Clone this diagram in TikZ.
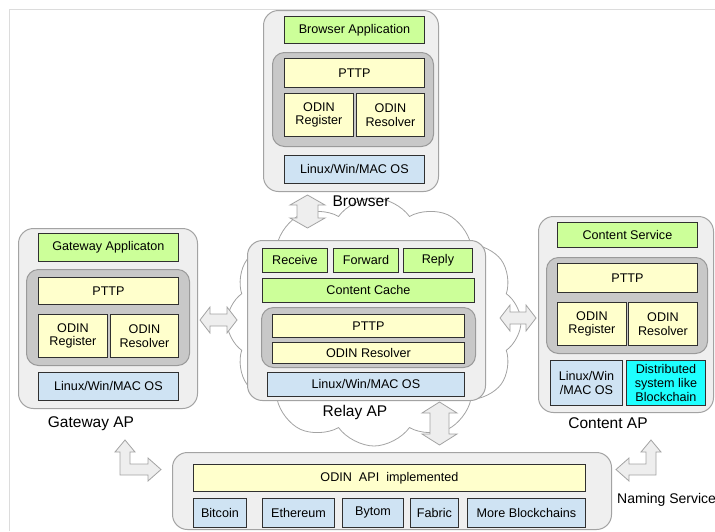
\documentclass[tikz,border=0pt]{standalone}
\usepackage{fontspec}
\setmainfont{Liberation Sans}
\usetikzlibrary{shapes.symbols}
\definecolor{outerfill}{HTML}{EFEFEF}
\definecolor{outerline}{HTML}{A3A3A3}
\definecolor{panelline}{HTML}{9A9A9A}
\definecolor{panelfill}{HTML}{C8C8C8}
\definecolor{greenfill}{HTML}{CCFF99}
\definecolor{yellowfill}{HTML}{FFFFCC}
\definecolor{bluefill}{HTML}{CFE3F3}
\definecolor{cyanfill}{HTML}{1EFFFF}
\definecolor{boxline}{HTML}{303030}
\definecolor{arrowfill}{HTML}{EEEEEE}
\definecolor{frameline}{HTML}{DCDCDC}
\newcommand\mybx[7]{\node[#1, minimum width={(#5-#3)*1pt}, minimum height={(#6-#4)*1pt}] (#2) at (#3,#4) {#7};}
\tikzset{
 outerbox/.style={draw=outerline, fill=outerfill, line width=1pt, rounded corners=15pt, anchor=north west, inner sep=0pt},
 panel/.style={draw=panelline, fill=panelfill, line width=1pt, rounded corners=12pt, anchor=north west, inner sep=0pt},
 inbox/.style={draw=boxline, line width=0.9pt, anchor=north west, inner sep=0pt, align=center, font=\fontsize{12.6}{13.8}\selectfont, text=black},
 gbox/.style={inbox, fill=greenfill},
 ybox/.style={inbox, fill=yellowfill},
 bbox/.style={inbox, fill=bluefill},
 cbox/.style={inbox, fill=cyanfill},
 biglabel/.style={font=\fontsize{15.5}{18}\selectfont, inner sep=0pt},
 blockarrow/.style={draw=outerline, fill=arrowfill, line width=0.8pt, line join=miter},
}
\begin{document}
\begin{tikzpicture}[x=1pt,y=-1pt]
\useasboundingbox (0,0) rectangle (715,531);
% frame
\draw[frameline, line width=0.8pt] (9,531) -- (9,9) -- (715,9);
% cloud
\node[cloud, draw=outerline, fill=white, line width=0.8pt, cloud puffs=12, cloud puff arc=110, aspect=1.19, minimum width=294pt, minimum height=248pt, inner sep=0pt] (cloud) at (374,322) {};

% Browser
\mybx{outerbox}{browser}{263}{10}{438}{191}{}
\mybx{panel}{bpanel}{272}{52}{433}{146}{}
\mybx{gbox}{bapp}{284}{16}{424}{43}{Browser Application}
\mybx{ybox}{bpttp}{284}{58}{424}{87}{PTTP}
\mybx{ybox}{breg}{284}{93}{353}{136}{ODIN\\Register}
\mybx{ybox}{bres}{356}{93}{424}{136}{ODIN\\Resolver}
\mybx{bbox}{bos}{284}{155}{424}{183}{Linux/Win/MAC OS}
\node[biglabel] (blabel) at (361,201) {Browser};

% Gateway
\mybx{outerbox}{gateway}{18}{228}{197}{408}{}
\mybx{panel}{gpanel}{26}{269}{189}{365}{}
\mybx{gbox}{gapp}{38}{233}{178}{261}{Gateway Applicaton}
\mybx{ybox}{gpttp}{38}{277}{178}{304}{PTTP}
\mybx{ybox}{greg}{38}{314}{107}{357}{ODIN\\Register}
\mybx{ybox}{gres}{110}{314}{178}{357}{ODIN\\Resolver}
\mybx{bbox}{gos}{38}{372}{178}{400}{Linux/Win/MAC OS}
\node[biglabel] (glabel) at (91,424) {Gateway AP};

% Relay
\mybx{outerbox}{relay}{247}{240}{485}{400}{}
\mybx{gbox}{rrec}{262}{248}{327}{272}{Receive}
\mybx{gbox}{rfwd}{333}{248}{398}{272}{Forward}
\mybx{gbox}{rrep}{403}{248}{472}{272}{Reply}
\mybx{gbox}{rcache}{262}{278}{474}{302}{Content Cache}
\mybx{panel}{rpanel}{261}{307}{475}{367}{}
\mybx{ybox}{rpttp}{272}{314}{464}{337}{PTTP}
\mybx{ybox}{rres}{272}{342}{464}{363}{ODIN Resolver}
\mybx{bbox}{ros}{267}{372}{464}{396}{Linux/Win/MAC OS}
\node[biglabel] (rlabel) at (355,412) {Relay AP};

% Content
\mybx{outerbox}{content}{538}{216}{713}{412}{}
\mybx{panel}{cpanel}{546}{257}{707}{353}{}
\mybx{gbox}{csvc}{557}{222}{697}{247}{Content Service}
\mybx{ybox}{cpttp}{557}{263}{697}{292}{PTTP}
\mybx{ybox}{creg}{557}{302}{626}{345}{ODIN\\Register}
\mybx{ybox}{cres}{628}{302}{697}{345}{ODIN\\Resolver}
\mybx{bbox}{cos}{550}{360}{622}{405}{Linux/Win\\/MAC OS}
\mybx{cbox}{cdist}{626}{360}{705}{405}{Distributed\\system like\\Blockchain}
\node[biglabel] (clabel) at (608,423) {Content AP};

% Bottom
\mybx{outerbox}{chain}{172}{452}{611}{529}{}
\mybx{ybox}{api}{193}{464}{585}{491}{ODIN~~API~~implemented}
\mybx{bbox}{btc}{193}{498}{246}{527}{Bitcoin}
\mybx{bbox}{eth}{262}{498}{334}{527}{Ethereum}
\mybx{bbox}{bytom}{342}{498}{403}{527}{Bytom}
\mybx{bbox}{fabric}{410}{498}{458}{527}{Fabric}
\mybx{bbox}{more}{467}{498}{585}{527}{More Blockchains}
\node[font=\fontsize{14}{16}\selectfont, anchor=west, inner sep=0pt] (naming) at (617,500) {Naming Service};

% block arrows
\draw[blockarrow] (307.5,195) -- (325,205) -- (318,205) -- (318,218) -- (325,218) -- (307.5,228) -- (290,218) -- (297,218) -- (297,205) -- (290,205) -- cycle;
\draw[blockarrow] (200,320) -- (210,307) -- (210,314) -- (227,314) -- (227,307) -- (237,320) -- (227,333) -- (227,326) -- (210,326) -- (210,333) -- cycle;
\draw[blockarrow] (500,318) -- (510,305) -- (510,312) -- (526,312) -- (526,305) -- (536,318) -- (526,331) -- (526,324) -- (510,324) -- (510,331) -- cycle;
\draw[blockarrow] (439.5,402) -- (457,413) -- (449,413) -- (449,434) -- (457,434) -- (439.5,445) -- (422,434) -- (430,434) -- (430,413) -- (422,413) -- cycle;
\draw[blockarrow] (125,440) -- (135,452) -- (130,452) -- (130,464) -- (148,464) -- (148,458) -- (161,469.5) -- (148,481) -- (148,475) -- (120,475) -- (120,452) -- (115,452) -- cycle;
\draw[blockarrow] (651,440) -- (661,452) -- (656,452) -- (656,475) -- (629,475) -- (629,481) -- (616,469.5) -- (629,458) -- (629,464) -- (646,464) -- (646,452) -- (641,452) -- cycle;
\end{tikzpicture}
\end{document}
